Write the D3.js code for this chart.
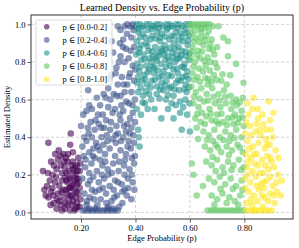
<!DOCTYPE html>
<html>
<head>
<meta charset="utf-8">
<script src="https://cdn.jsdelivr.net/npm/d3@7"></script>
<style>
body { margin: 0; background: #fff; }
text { font-family: "Liberation Serif", "DejaVu Serif", serif; fill: #000; }
</style>
</head>
<body>
<div id="c"></div>
<script>
// legend labels, one per bin
var bins = ["p \u2208 [0.0-0.2]", "p \u2208 [0.2-0.4]", "p \u2208 [0.4-0.6]", "p \u2208 [0.6-0.8]", "p \u2208 [0.8-1.0]"];
var colors = ["#440154", "#3b528b", "#21918c", "#5ec962", "#fde725"];
var x_ticks = [0.2, 0.4, 0.6, 0.8];
var y_ticks = [0.0, 0.2, 0.4, 0.6, 0.8, 1.0];

// [p, estimated density]
var pts_00_02 = [[0.080,0.37],[0.162,0.42],[0.160,0.36],[0.105,0.31],[0.125,0.30],[0.135,0.31],[0.145,0.29],[0.170,0.32],[0.060,0.22],
	[0.115,0.28],[0.150,0.27],[0.185,0.25],[0.190,0.29],[0.195,0.22],[0.180,0.20],[0.170,0.23],[0.155,0.22],[0.140,0.24],[0.130,0.21],
	[0.110,0.23],[0.095,0.20],[0.085,0.17],[0.075,0.14],[0.090,0.11],[0.080,0.08],[0.100,0.05],[0.110,0.02],[0.125,0.04],[0.135,0.08],
	[0.145,0.12],[0.150,0.16],[0.160,0.18],[0.165,0.14],[0.175,0.12],[0.185,0.15],[0.190,0.10],[0.195,0.13],[0.180,0.08],[0.170,0.06],
	[0.160,0.09],[0.150,0.04],[0.140,0.02],[0.160,0.01],[0.180,0.02],[0.195,0.03],[0.120,0.14],[0.105,0.16],[0.115,0.10],[0.130,0.17],
	[0.140,0.19],[0.165,0.25],[0.175,0.17],[0.190,0.18],[0.198,0.07],[0.155,0.07],[0.100,0.25],[0.070,0.09],[0.090,0.27],[0.120,0.06],
	[0.135,0.12],[0.170,0.27],[0.185,0.05],[0.145,0.21],[0.160,0.13],[0.125,0.25],[0.095,0.13],[0.175,0.21],[0.188,0.22],[0.150,0.10],[0.130,0.01],
	[0.065,0.12],[0.078,0.21],[0.088,0.04],[0.098,0.09],[0.108,0.19],[0.118,0.33],[0.128,0.11],[0.138,0.27],[0.142,0.05],[0.152,0.31],
	[0.158,0.19],[0.167,0.09],[0.172,0.15],[0.178,0.24],[0.182,0.11],[0.188,0.03],[0.192,0.16],[0.197,0.26],[0.156,0.13],[0.166,0.04],
	[0.176,0.01],[0.146,0.17],[0.183,0.18],[0.112,0.07]];

var pts_02_04 = [[0.205,0.01],[0.215,0.01],[0.225,0.01],[0.235,0.01],[0.245,0.01],[0.255,0.01],[0.265,0.01],[0.275,0.01],[0.285,0.01],
	[0.295,0.01],[0.305,0.01],[0.315,0.01],[0.325,0.01],[0.335,0.01],
	[0.335,0.99],[0.360,0.99],[0.370,1.0],[0.380,0.99],[0.390,1.0],[0.398,0.99],[0.345,0.97],
	[0.343,0.90],[0.318,0.85],[0.330,0.77],[0.355,0.92],[0.365,0.87],[0.385,0.93],[0.395,0.88],[0.375,0.82],[0.390,0.78],[0.360,0.80],
	[0.345,0.83],[0.380,0.74],[0.395,0.70],[0.370,0.68],[0.350,0.72],[0.335,0.68],[0.310,0.73],[0.300,0.66],[0.290,0.61],[0.320,0.63],
	[0.345,0.62],[0.385,0.64],[0.398,0.60],[0.375,0.58],[0.360,0.64],[0.258,0.61],[0.226,0.65],[0.220,0.54],[0.270,0.57],[0.240,0.55],
	[0.280,0.52],[0.300,0.56],[0.325,0.55],[0.355,0.54],[0.390,0.53],[0.200,0.46],[0.225,0.45],[0.212,0.40],
	[0.235,0.48],[0.250,0.44],[0.265,0.47],[0.285,0.45],[0.310,0.48],[0.330,0.46],[0.345,0.49],[0.370,0.47],[0.385,0.45],[0.398,0.48],
	[0.205,0.35],[0.220,0.38],[0.240,0.40],[0.255,0.37],[0.275,0.40],[0.295,0.41],[0.315,0.39],[0.335,0.42],[0.355,0.40],[0.375,0.38],[0.392,0.41],
	[0.210,0.30],[0.230,0.32],[0.250,0.29],[0.268,0.33],[0.288,0.31],[0.305,0.34],[0.325,0.30],[0.345,0.33],[0.365,0.31],[0.383,0.34],[0.398,0.30],
	[0.215,0.24],[0.238,0.26],[0.258,0.22],[0.278,0.25],[0.298,0.23],[0.318,0.26],[0.338,0.22],[0.358,0.25],[0.378,0.23],[0.395,0.26],
	[0.205,0.18],[0.225,0.15],[0.245,0.19],[0.265,0.16],[0.285,0.18],[0.305,0.14],[0.325,0.17],[0.350,0.15],[0.372,0.18],[0.390,0.16],
	[0.212,0.10],[0.232,0.08],[0.252,0.11],[0.272,0.07],[0.292,0.10],[0.312,0.06],[0.332,0.09],[0.352,0.05],[0.368,0.09],[0.385,0.07],
	[0.220,0.04],[0.260,0.04],[0.300,0.03],[0.340,0.03],[0.360,0.12],[0.280,0.13],[0.240,0.12],[0.320,0.12],
	[0.230,0.57],[0.262,0.52],[0.292,0.49],[0.348,0.57],[0.380,0.50],[0.308,0.60],[0.365,0.43],[0.245,0.34],[0.282,0.36],[0.328,0.37],
	[0.395,0.37],[0.360,0.20],[0.300,0.20],[0.230,0.21],[0.270,0.28],[0.340,0.27],
	[0.208,0.52],[0.217,0.28],[0.222,0.06],[0.228,0.42],[0.233,0.17],[0.243,0.30],[0.248,0.07],[0.253,0.49],[0.261,0.35],[0.267,0.12],
	[0.274,0.45],[0.277,0.20],[0.283,0.63],[0.289,0.27],[0.293,0.05],[0.297,0.38],[0.303,0.71],[0.307,0.44],[0.313,0.21],[0.316,0.53],
	[0.322,0.08],[0.327,0.41],[0.331,0.62],[0.336,0.16],[0.339,0.80],[0.342,0.52],[0.347,0.38],[0.352,0.11],[0.354,0.88],[0.358,0.46],
	[0.362,0.28],[0.366,0.59],[0.369,0.95],[0.373,0.13],[0.376,0.72],[0.379,0.42],[0.382,0.86],[0.386,0.20],[0.389,0.57],[0.393,0.97],
	[0.396,0.12],[0.399,0.76],[0.371,0.35],[0.357,0.68],[0.387,0.29],[0.327,0.74],[0.312,0.91],[0.297,0.02],[0.318,0.02],[0.252,0.02],[0.229,0.02]];

var pts_04_06 = [[0.405,1.0],[0.417,1.0],[0.429,0.99],[0.441,1.0],[0.453,1.0],[0.465,0.99],[0.477,1.0],[0.489,1.0],[0.501,0.99],
	[0.513,1.0],[0.525,1.0],[0.537,0.99],[0.549,1.0],[0.561,1.0],[0.573,0.99],[0.585,1.0],[0.597,1.0],
	[0.410,0.96],[0.428,0.95],[0.446,0.97],[0.462,0.94],[0.480,0.96],[0.497,0.95],[0.515,0.97],[0.532,0.94],[0.548,0.96],[0.566,0.95],[0.582,0.97],[0.596,0.94],
	[0.404,0.91],[0.420,0.89],[0.438,0.90],[0.455,0.92],[0.472,0.88],[0.490,0.91],[0.507,0.89],[0.524,0.92],[0.541,0.90],[0.558,0.88],[0.575,0.91],[0.592,0.89],
	[0.412,0.85],[0.430,0.84],[0.448,0.86],[0.465,0.83],[0.483,0.85],[0.500,0.86],[0.518,0.83],[0.535,0.85],[0.552,0.84],[0.570,0.86],[0.587,0.83],
	[0.405,0.79],[0.422,0.81],[0.440,0.78],[0.458,0.80],[0.476,0.82],[0.493,0.79],[0.510,0.81],[0.528,0.78],[0.545,0.80],[0.563,0.82],[0.580,0.79],[0.597,0.81],
	[0.414,0.75],[0.432,0.73],[0.450,0.76],[0.468,0.74],[0.486,0.72],[0.503,0.75],[0.521,0.73],[0.539,0.76],[0.556,0.74],[0.574,0.72],[0.591,0.75],
	[0.406,0.69],[0.424,0.70],[0.442,0.68],[0.460,0.70],[0.479,0.67],[0.496,0.69],[0.514,0.70],[0.531,0.67],[0.549,0.69],[0.567,0.70],[0.585,0.68],
	[0.410,0.64],[0.428,0.62],[0.450,0.63],[0.478,0.63],[0.502,0.65],[0.540,0.62],[0.564,0.59],[0.588,0.64],
	[0.435,0.58],[0.520,0.55],[0.564,0.53],[0.575,0.56],[0.410,0.44],[0.412,0.40],[0.415,0.35],[0.570,0.44],[0.600,0.43],[0.470,0.55],
	[0.495,0.50],[0.548,0.57],[0.598,0.58],[0.405,0.55],[0.420,0.52],
	[0.418,0.93],[0.452,0.82],[0.470,0.77],[0.505,0.84],[0.545,0.87],[0.578,0.77],[0.435,0.71],[0.525,0.66],[0.560,0.65],[0.490,0.93],
	[0.595,0.71],[0.403,0.84],[0.470,0.99],[0.530,0.99],
	[0.408,0.975],[0.423,0.985],[0.437,0.93],[0.459,0.975],[0.474,0.925],[0.486,0.98],[0.494,0.87],[0.509,0.935],[0.519,0.98],[0.527,0.875],
	[0.543,0.935],[0.556,0.98],[0.559,0.915],[0.571,0.935],[0.589,0.955],[0.594,0.915],[0.416,0.87],[0.434,0.815],[0.444,0.885],[0.461,0.855],
	[0.478,0.805],[0.488,0.835],[0.511,0.865],[0.523,0.805],[0.537,0.825],[0.553,0.815],[0.568,0.835],[0.584,0.855],[0.599,0.845],[0.409,0.72],
	[0.418,0.775],[0.445,0.745],[0.463,0.775],[0.482,0.755],[0.498,0.725],[0.512,0.775],[0.533,0.725],[0.552,0.765],[0.571,0.775],[0.586,0.725],
	[0.419,0.665],[0.438,0.645],[0.456,0.665],[0.471,0.705],[0.491,0.655],[0.508,0.675],[0.519,0.625],[0.544,0.655],[0.557,0.705],[0.579,0.655],
	[0.596,0.665],[0.426,0.585],[0.458,0.600],[0.488,0.605],[0.512,0.600],[0.533,0.580],[0.583,0.600],[0.445,0.550],[0.540,0.500],[0.590,0.520]];

var pts_06_08 = [[0.600,1.0],[0.612,1.0],[0.624,1.0],[0.636,1.0],[0.648,1.0],[0.660,1.0],[0.672,1.0],[0.684,0.99],[0.705,0.99],
	[0.723,0.93],[0.740,0.91],[0.700,0.88],[0.740,0.83],[0.770,0.79],[0.797,0.69],[0.748,0.73],
	[0.605,0.95],[0.620,0.93],[0.640,0.96],[0.660,0.94],[0.680,0.92],[0.610,0.88],[0.630,0.86],[0.650,0.89],[0.670,0.87],[0.690,0.84],
	[0.602,0.82],[0.618,0.80],[0.638,0.82],[0.658,0.78],[0.676,0.80],[0.700,0.77],[0.610,0.74],[0.628,0.72],[0.648,0.75],[0.668,0.71],
	[0.688,0.73],[0.715,0.70],[0.735,0.68],[0.605,0.67],[0.622,0.64],[0.642,0.66],[0.662,0.63],[0.682,0.66],[0.705,0.63],[0.725,0.65],
	[0.750,0.62],[0.770,0.60],
	[0.612,0.58],[0.632,0.56],[0.652,0.59],[0.672,0.55],[0.692,0.58],[0.712,0.56],[0.732,0.58],[0.752,0.55],[0.772,0.57],[0.790,0.54],
	[0.620,0.50],[0.640,0.48],[0.660,0.51],[0.680,0.49],[0.700,0.52],[0.720,0.48],[0.740,0.50],[0.760,0.47],[0.780,0.50],[0.798,0.46],
	[0.630,0.39],[0.650,0.43],[0.670,0.41],[0.690,0.44],[0.710,0.40],[0.730,0.43],[0.750,0.41],[0.770,0.44],[0.790,0.40],
	[0.655,0.35],[0.675,0.33],[0.695,0.36],[0.715,0.32],[0.735,0.35],[0.755,0.33],[0.775,0.36],[0.795,0.32],
	[0.607,0.26],[0.660,0.27],[0.680,0.25],[0.700,0.28],[0.720,0.24],[0.740,0.27],[0.760,0.25],[0.780,0.28],[0.798,0.24],
	[0.613,0.20],[0.648,0.14],[0.625,0.09],[0.670,0.18],[0.690,0.16],[0.710,0.19],[0.730,0.15],[0.750,0.18],[0.770,0.14],[0.790,0.17],
	[0.680,0.09],[0.700,0.07],[0.720,0.10],[0.745,0.08],[0.765,0.06],[0.785,0.09],
	[0.665,0.01],[0.677,0.01],[0.689,0.01],[0.701,0.01],[0.713,0.01],[0.725,0.01],[0.737,0.01],[0.749,0.01],[0.761,0.01],[0.773,0.01],
	[0.785,0.01],[0.797,0.01],
	[0.645,0.53],[0.705,0.47],[0.765,0.52],[0.625,0.45],[0.685,0.38],[0.745,0.38],[0.725,0.21],[0.695,0.22],[0.795,0.61],[0.665,0.68],[0.640,0.93],
	[0.603,0.985],[0.617,0.965],[0.629,0.990],[0.643,0.975],[0.657,0.985],[0.669,0.965],[0.615,0.910],[0.634,0.905],[0.656,0.915],[0.675,0.895],
	[0.607,0.855],[0.626,0.835],[0.645,0.855],[0.665,0.825],[0.684,0.865],[0.613,0.775],[0.633,0.765],[0.654,0.805],[0.673,0.755],[0.693,0.795],
	[0.617,0.705],[0.637,0.695],[0.657,0.715],[0.679,0.695],[0.698,0.705],[0.720,0.735],[0.616,0.615],[0.636,0.605],[0.667,0.595],[0.687,0.615],
	[0.709,0.595],[0.729,0.615],[0.757,0.585],[0.783,0.585],[0.627,0.525],[0.655,0.470],[0.676,0.525],[0.696,0.485],[0.716,0.525],[0.736,0.465],
	[0.756,0.505],[0.776,0.475],[0.793,0.505],[0.663,0.385],[0.703,0.345],[0.723,0.385],[0.763,0.395],[0.783,0.345],[0.683,0.295],[0.743,0.305],
	[0.788,0.225],[0.753,0.225],[0.713,0.125],[0.758,0.125],[0.793,0.120],[0.735,0.050],[0.690,0.040],[0.778,0.040]];

var pts_08_10 = [[0.834,0.61],[0.889,0.59],[0.830,0.55],[0.907,0.53],[0.924,0.20],[0.934,0.09],[0.938,0.17],
	[0.815,0.52],[0.850,0.50],[0.870,0.47],[0.895,0.49],[0.820,0.46],[0.842,0.43],[0.860,0.41],[0.880,0.44],[0.905,0.40],[0.803,0.42],
	[0.812,0.38],[0.832,0.35],[0.852,0.37],[0.875,0.34],[0.893,0.36],[0.915,0.33],[0.805,0.31],[0.825,0.29],[0.845,0.31],[0.865,0.28],
	[0.885,0.30],[0.900,0.27],
	[0.810,0.24],[0.830,0.22],[0.850,0.25],[0.870,0.21],[0.890,0.23],[0.910,0.24],[0.802,0.18],[0.822,0.16],[0.842,0.19],[0.862,0.15],
	[0.882,0.17],[0.905,0.14],
	[0.815,0.11],[0.835,0.09],[0.855,0.12],[0.875,0.08],[0.895,0.10],[0.808,0.05],[0.828,0.04],[0.848,0.06],[0.868,0.03],[0.912,0.05],
	[0.805,0.01],[0.817,0.01],[0.829,0.01],[0.841,0.01],[0.853,0.01],[0.865,0.01],[0.877,0.01],[0.889,0.01],[0.901,0.01],
	[0.838,0.26],[0.858,0.44],[0.818,0.34],[0.880,0.39],[0.812,0.20],[0.926,0.29],[0.850,0.55],[0.872,0.13],
	[0.807,0.48],[0.826,0.41],[0.845,0.47],[0.866,0.52],[0.884,0.36],[0.898,0.44],[0.813,0.27],[0.836,0.31],[0.856,0.21],[0.877,0.25],
	[0.896,0.19],[0.918,0.16],[0.804,0.13],[0.824,0.07],[0.846,0.14],[0.865,0.09],[0.887,0.06],[0.908,0.09],[0.920,0.11],[0.811,0.58],
	[0.870,0.16],[0.840,0.01],[0.896,0.29]];

var groups = [pts_00_02, pts_02_04, pts_04_06, pts_06_08, pts_08_10];

var width = 299;
var height = 248;
var m = {left: 31, right: 6, top: 15, bottom: 29};

var svg = d3.select("#c").append("svg")
	.attr("width", width)
	.attr("height", height);

var x_scale = d3.scaleLinear()
	.domain([0.016, 0.979])
	.range([m.left, width - m.right]);

var y_scale = d3.scaleLinear()
	.domain([-0.035, 1.05])
	.range([height - m.bottom, m.top]);

// points
groups.forEach(function(g, i) {
	svg.append("g")
		.selectAll("circle")
		.data(g)
		.enter()
		.append("circle")
		.attr("cx", function(d) { return x_scale(d[0]); })
		.attr("cy", function(d) { return y_scale(d[1]); })
		.attr("r", 3.3)
		.attr("fill", colors[i])
		.attr("fill-opacity", 0.6);
});

// grid on top of points, like matplotlib
var grid = svg.append("g")
	.attr("stroke", "#b0b0b0")
	.attr("stroke-opacity", 0.8)
	.attr("stroke-width", 0.7)
	.attr("stroke-dasharray", "3,2");

grid.selectAll(".gx")
	.data(x_ticks)
	.enter()
	.append("line")
	.attr("x1", function(d) { return x_scale(d); })
	.attr("x2", function(d) { return x_scale(d); })
	.attr("y1", m.top)
	.attr("y2", height - m.bottom);

grid.selectAll(".gy")
	.data(y_ticks)
	.enter()
	.append("line")
	.attr("y1", function(d) { return y_scale(d); })
	.attr("y2", function(d) { return y_scale(d); })
	.attr("x1", m.left)
	.attr("x2", width - m.right);

// axes
var x_axis = svg.append("g")
	.attr("transform", "translate(0," + (height - m.bottom) + ")")
	.call(d3.axisBottom(x_scale).tickValues(x_ticks).tickFormat(d3.format(".2f")).tickSize(3.5).tickPadding(2));

var y_axis = svg.append("g")
	.attr("transform", "translate(" + m.left + ",0)")
	.call(d3.axisLeft(y_scale).tickValues(y_ticks).tickFormat(d3.format(".1f")).tickSize(3.5).tickPadding(2));

[x_axis, y_axis].forEach(function(a) {
	a.select(".domain").remove();
	a.selectAll("text")
		.style("font-family", "Liberation Serif, serif")
		.style("font-size", "8.5px")
		.attr("fill", "#000");
	a.selectAll("line").attr("stroke", "#333").attr("stroke-width", 0.8);
});

// frame
svg.append("rect")
	.attr("x", m.left)
	.attr("y", m.top)
	.attr("width", width - m.left - m.right)
	.attr("height", height - m.top - m.bottom)
	.attr("fill", "none")
	.attr("stroke", "#333")
	.attr("stroke-width", 1);

// titles
svg.append("text")
	.attr("x", (m.left + width - m.right) / 2)
	.attr("y", 11)
	.attr("text-anchor", "middle")
	.style("font-size", "10px")
	.text("Learned Density vs. Edge Probability (p)");

svg.append("text")
	.attr("x", (m.left + width - m.right) / 2)
	.attr("y", 241)
	.attr("text-anchor", "middle")
	.style("font-size", "8.5px")
	.text("Edge Probability (p)");

svg.append("text")
	.attr("transform", "translate(10," + ((m.top + height - m.bottom) / 2) + ") rotate(-90)")
	.attr("text-anchor", "middle")
	.style("font-size", "8.5px")
	.text("Estimated Density");

// legend
var lg = svg.append("g");
lg.append("rect")
	.attr("x", 36)
	.attr("y", 20)
	.attr("width", 76)
	.attr("height", 65)
	.attr("rx", 2)
	.attr("fill", "#fff")
	.attr("fill-opacity", 0.8)
	.attr("stroke", "#d0d0d0")
	.attr("stroke-width", 0.8);

var rows = lg.selectAll(".row")
	.data(bins)
	.enter()
	.append("g")
	.attr("transform", function(d, i) { return "translate(0," + (26.8 + i * 13.1) + ")"; });

rows.append("circle")
	.attr("cx", 46.7)
	.attr("cy", 0)
	.attr("r", 2.8)
	.attr("fill", function(d, i) { return colors[i]; })
	.attr("fill-opacity", 0.6);

rows.append("text")
	.attr("x", 62.5)
	.attr("y", 3)
	.style("font-size", "8.5px")
	.text(function(d) { return d; });
</script>
</body>
</html>
